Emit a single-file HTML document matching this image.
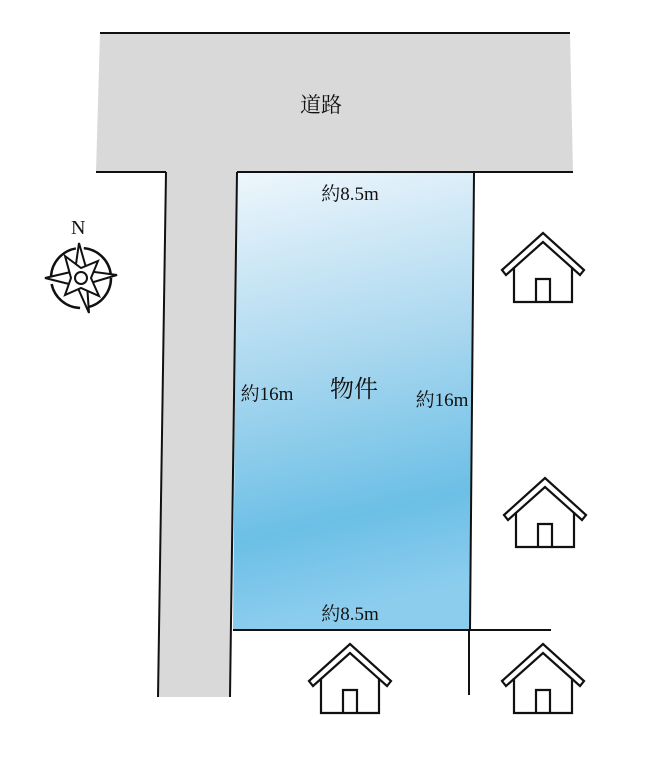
<!DOCTYPE html>
<html><head><meta charset="utf-8"><style>
body{margin:0;background:#fff}
text{font-family:"Liberation Serif","Noto Serif CJK SC",serif;fill:#111}
</style></head><body>
<svg width="650" height="759" viewBox="0 0 650 759">
<defs>
<linearGradient id="g" x1="0" y1="0" x2="0.12" y2="1">
<stop offset="0" stop-color="#eef6fc"/>
<stop offset="0.45" stop-color="#a9d7ef"/>
<stop offset="0.8" stop-color="#6cbfe6"/>
<stop offset="1" stop-color="#8ccdee"/>
</linearGradient>
<g id="h" fill="none" stroke="#111" stroke-width="2.2" stroke-linejoin="miter">
<path d="M-41,36 L0,-1 L41,36 L37,41 L0,8 L-37,41 Z" fill="#fff"/>
<path d="M-29,33 L-29,68 L29,68 L29,33"/>
<path d="M-7,68 L-7,45 L7,45 L7,68"/>
</g>
</defs>
<polygon points="100,33 570,33 573,172 237,172 230,697 158,697 166,172 96,172" fill="#d9d9d9"/>
<polygon points="237,173 474,173 470,630 233,630" fill="url(#g)"/>
<g stroke="#111" stroke-width="2" fill="none">
<line x1="100" y1="33" x2="570" y2="33"/>
<line x1="96" y1="172" x2="166" y2="172"/>
<line x1="237" y1="172" x2="573" y2="172"/>
<line x1="166" y1="172" x2="158" y2="697"/>
<line x1="237" y1="172" x2="230" y2="697"/>
<line x1="474" y1="173" x2="470" y2="630"/>
<line x1="233" y1="630" x2="551" y2="630"/>
<line x1="469" y1="630" x2="469" y2="695"/>
</g>
<text x="321" y="112" font-size="21" text-anchor="middle">道路</text>
<text x="350" y="200" font-size="19" text-anchor="middle">約8.5m</text>
<text x="267" y="400" font-size="19" text-anchor="middle">約16m</text>
<text x="442" y="406" font-size="19" text-anchor="middle">約16m</text>
<text x="354" y="397" font-size="24" text-anchor="middle">物件</text>
<text x="350" y="620" font-size="19" text-anchor="middle">約8.5m</text>
<use href="#h" x="543" y="234"/>
<use href="#h" x="545" y="479"/>
<use href="#h" x="350" y="645"/>
<use href="#h" x="543" y="645"/>
<g transform="translate(81,278)" stroke="#111" stroke-width="2" fill="#fff">
<text x="-10" y="-44" font-size="20" stroke="none" fill="#111">N</text>
<circle r="30" fill="none" stroke-width="2.5" stroke-dasharray="40 8"/>
<polygon points="-2,-35 6,-7 36,-3 6,6 8,35 -4,8 -36,0 -6,-7"/>
<polygon points="-16,-22 0,-10 17,-17 10,0 18,18 0,10 -16,17 -10,0"/>
<circle r="6"/>
</g>
</svg>
</body></html>
